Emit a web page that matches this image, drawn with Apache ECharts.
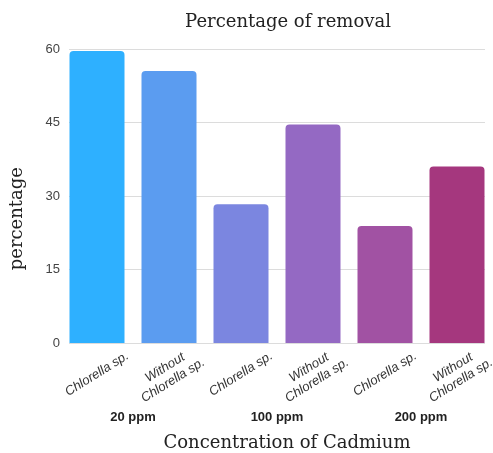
<!DOCTYPE html>
<html>
<head>
<meta charset="utf-8">
<script src="https://cdn.jsdelivr.net/npm/echarts@6/dist/echarts.min.js"></script>
<style>html,body{margin:0;padding:0;background:#fff}#c{width:493px;height:453px}</style>
</head>
<body>
<div id="c"></div>
<script>
const categories = ["Chlorella sp.", "Without\nChlorella sp.", "Chlorella sp.", "Without\nChlorella sp.", "Chlorella sp.", "Without\nChlorella sp."];
const groups = ["20 ppm", "100 ppm", "200 ppm"];
const values = [59.6, 55.5, 28.3, 44.6, 23.9, 36.0];
const colors = ["#2EB0FF", "#5B9CF0", "#7B86E0", "#9469C3", "#A152A3", "#A5377E"];
const yTicks = [0, 15, 30, 45, 60];

const chart = echarts.init(document.getElementById('c'));
const serif = "'DejaVu Serif', 'Liberation Serif', serif";
const sans = "'Liberation Sans', Arial, sans-serif";
chart.setOption({
  animation: false,
  title: {
    text: 'Percentage of removal', top: 8, left: 283, textAlign: 'center',
    textStyle: {fontFamily: serif, fontSize: 18, fontWeight: 'normal', color: '#222'}
  },
  graphic: [
    {type: 'text', left: 8, top: 167, rotation: Math.PI / 2,
     style: {text: 'percentage', font: "18px 'DejaVu Serif', serif", fill: '#222'}},
    {type: 'text', x: 287, y: 443,
     style: {text: 'Concentration of Cadmium', font: "18px 'DejaVu Serif', serif", fill: '#222', align: 'center', verticalAlign: 'middle'}}
  ],
  grid: [
    {left: 69, right: 8, top: 49, bottom: 110, outerBoundsMode: 'none', containLabel: false},
    {left: 61, right: 0, top: 49, bottom: 110, outerBoundsMode: 'none', containLabel: false}
  ],
  xAxis: [
    {type: 'category', gridIndex: 0, data: categories, show: false},
    {type: 'category', gridIndex: 1, data: categories,
     axisLine: {show: false}, axisTick: {show: false},
     axisLabel: {interval: 0, rotate: 32, align: 'center', verticalAlign: 'middle', margin: 31,
       fontStyle: 'italic', fontFamily: sans, fontSize: 13, color: '#333', lineHeight: 15}},
    {type: 'category', gridIndex: 1, data: groups, position: 'bottom',
     axisLine: {show: false}, axisTick: {show: false},
     axisLabel: {interval: 0, margin: 68, fontWeight: 'bold', fontFamily: sans, fontSize: 13, color: '#222'}}
  ],
  yAxis: [
    {type: 'value', gridIndex: 0, min: yTicks[0], max: yTicks[yTicks.length - 1], interval: 15,
     axisLine: {show: false}, axisTick: {show: false},
     axisLabel: {margin: 9, fontFamily: sans, fontSize: 13, color: '#444'},
     splitLine: {lineStyle: {color: '#dcdcdc', width: 1}}},
    {type: 'value', gridIndex: 1, min: yTicks[0], max: yTicks[yTicks.length - 1], interval: 15, show: false}
  ],
  series: [{
    type: 'bar', xAxisIndex: 1, yAxisIndex: 1, barWidth: 55,
    data: values.map((v, i) => ({value: v, itemStyle: {color: colors[i]}})),
    itemStyle: {borderRadius: [4, 4, 0, 0]}
  }]
});
</script>
</body>
</html>
